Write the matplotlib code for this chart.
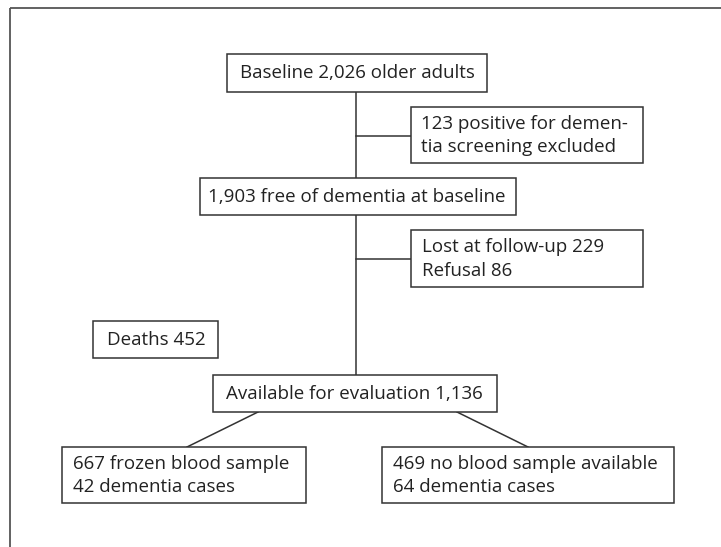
import matplotlib
matplotlib.use("Agg")
import matplotlib.pyplot as plt
from matplotlib.patches import Rectangle

# ---- content ----
labels = [
    "Baseline 2,026 older adults",
    "123 positive for demen-\ntia screening excluded",
    "1,903 free of dementia at baseline",
    "Lost at follow-up 229\nRefusal 86",
    "Deaths 452",
    "Available for evaluation 1,136",
    "667 frozen blood sample\n42 dementia cases",
    "469 no blood sample available\n64 dementia cases",
]

# ---- layout (pixel coordinates, y downward) ----
boxes = [  # left, top, right, bottom, text padding
    (227, 54, 487, 92, 13),
    (411, 107, 643, 163, 10),
    (200, 178, 516, 215, 8),
    (411, 230, 643, 287, 11),
    (93, 321, 218, 358, 14),
    (213, 375, 497, 412, 13),
    (62, 447, 306, 503, 11),
    (382, 447, 674, 503, 11),
]

W, H = 721, 547
fig = plt.figure(figsize=(W / 100, H / 100), dpi=100)
ax = fig.add_axes([0, 0, 1, 1])
ax.set_xlim(0, W)
ax.set_ylim(H, 0)
ax.axis("off")

edge = "#333333"
txtc = "#222222"
font = ["Open Sans", "DejaVu Sans"]

# outer frame
ax.plot([10, 10], [H + 5, 7.5], color="#555555", lw=1.3, solid_capstyle="butt")
ax.plot([10, W + 5], [7.5, 7.5], color="#555555", lw=1.3, solid_capstyle="butt")

for (l, t, r, b, pad), lab in zip(boxes, labels):
    ax.add_patch(Rectangle((l, t), r - l, b - t, fill=True, facecolor="white",
                           edgecolor=edge, lw=1.1, zorder=3))
    ax.text(l + pad, (t + b) / 2 + 0.5, lab, ha="left", va="center",
            fontsize=13.5, color=txtc, family=font, linespacing=1.38, zorder=4)

lw = 1.1
cx = 356
# main vertical connectors
ax.plot([cx, cx], [92, 178], color=edge, lw=lw)
ax.plot([cx, cx], [215, 375], color=edge, lw=lw)
# side branches
ax.plot([cx, 411], [136, 136], color=edge, lw=lw)
ax.plot([cx, 411], [259, 259], color=edge, lw=lw)
# diagonals
ax.plot([258, 187], [412, 447], color=edge, lw=lw)
ax.plot([457, 528], [412, 447], color=edge, lw=lw)

fig.savefig("out.png", dpi=100, facecolor="white")
